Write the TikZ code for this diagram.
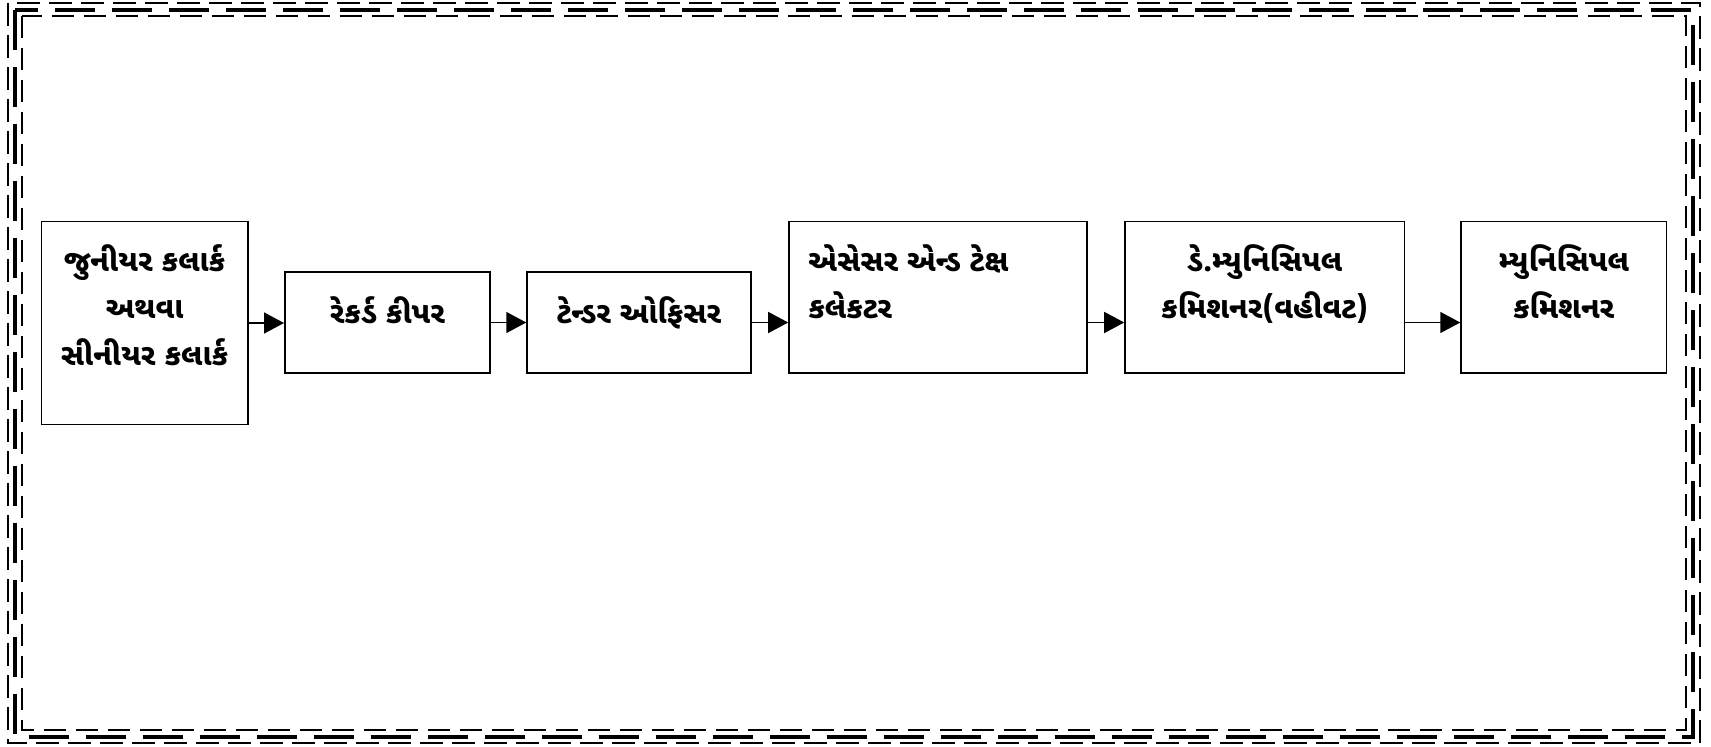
\documentclass[tikz,border=0pt]{standalone}
\usepackage{fontspec}
\newfontfamily\guj[Script=Gujarati]{Noto Sans Gujarati UI}
\usetikzlibrary{arrows.meta}
\begin{document}
\begin{tikzpicture}[x=1pt,y=-1pt,
  box/.style={draw, line width=1.6pt, inner sep=0pt},
  lbl/.style={font=\guj\bfseries\fontsize{30}{47}\selectfont, inner sep=0pt, align=center},
  arr/.style={line width=1.5pt, -{Triangle[length=20pt,width=21pt]}}]
\useasboundingbox (0,0) rectangle (1711,747);
% border
\draw[line width=2pt, dash pattern=on 23pt off 9pt] (8,3) rectangle (1700,743);
\draw[line width=4pt, dash pattern=on 40pt off 17pt] (15,9.5) rectangle (1693,737);
\draw[line width=2pt, dash pattern=on 22pt off 10pt] (22,16) rectangle (1686,730);
% boxes
\node[box, minimum width=206.2pt, minimum height=203pt] (b1) at (144.6,323) {};
\node[box, minimum width=205.2pt, minimum height=101.5pt] (b2) at (387.4,322.5) {};
\node[box, minimum width=223.7pt, minimum height=101.5pt] (b3) at (638.9,322.5) {};
\node[box, minimum width=297.8pt, minimum height=151.7pt] (b4) at (937.9,297.4) {};
\node[box, minimum width=279.4pt, minimum height=151.7pt] (b5) at (1264.7,297.4) {};
\node[box, minimum width=205.3pt, minimum height=151.7pt] (b6) at (1563.7,297.4) {};
% labels
\node[lbl, anchor=north] (t1) at ([yshift=-24pt]b1.north) {જુનીયર કલાર્ક\\અથવા\\સીનીયર કલાર્ક};
\node[lbl, anchor=north] (t2) at ([yshift=-25pt]b2.north) {રેકર્ડ કીપર};
\node[lbl, anchor=north] (t3) at ([yshift=-25pt]b3.north) {ટેન્ડર ઓફિસર};
\node[lbl, anchor=north west, align=left] (t4) at ([xshift=20pt,yshift=-24pt]b4.north west) {એસેસર એન્ડ ટેક્ષ\\કલેકટર};
\node[lbl, anchor=north] (t5) at ([yshift=-24pt]b5.north) {ડે.મ્યુનિસિપલ\\કમિશનર(વહીવટ)};
\node[lbl, anchor=north] (t6) at ([yshift=-24pt]b6.north) {મ્યુનિસિપલ\\કમિશનર};
% arrows
\draw[arr] (b1.east) -- (b1.east -| b2.west);
\draw[arr] (b2.east) -- (b3.west);
\draw[arr] (b3.east) -- (b3.east -| b4.west);
\coordinate (a4) at (b4.east |- b3.east);
\draw[arr] (a4) -- (a4 -| b5.west);
\coordinate (a5) at (b5.east |- b3.east);
\draw[arr] (a5) -- (a5 -| b6.west);
\end{tikzpicture}
\end{document}
